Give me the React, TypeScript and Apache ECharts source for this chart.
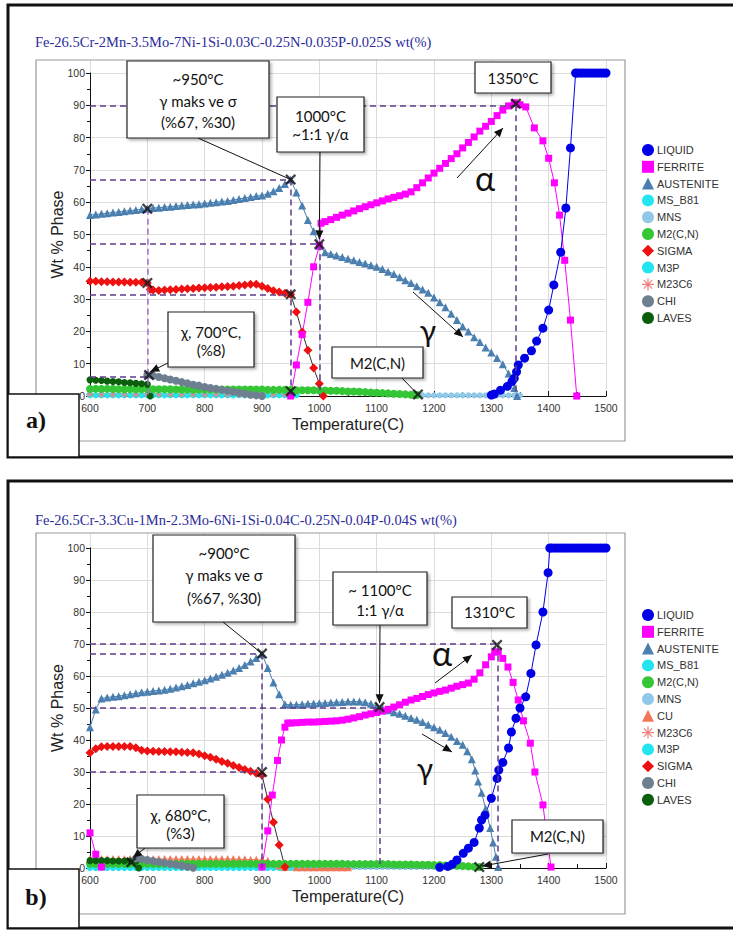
import React, { useEffect, useRef } from "react";
import * as echarts from "echarts";

// uniformly spaced temperature runs: start temperature, step
const run = (start: number, step: number, vals: number[]): any[] =>
  vals.map((v, i) => [start + i * step, v]);

// ---------------- texts ----------------
const TITLE_A = "Fe-26.5Cr-2Mn-3.5Mo-7Ni-1Si-0.03C-0.25N-0.035P-0.025S wt(%)";
const TITLE_B = "Fe-26.5Cr-3.3Cu-1Mn-2.3Mo-6Ni-1Si-0.04C-0.25N-0.04P-0.04S wt(%)";
const X_NAME = "Temperature(C)";
const Y_NAME = "Wt % Phase";
const LEGEND_A = ["LIQUID", "FERRITE", "AUSTENITE", "MS_B81", "MNS", "M2(C,N)", "SIGMA", "M3P", "M23C6", "CHI", "LAVES"];
const LEGEND_B = ["LIQUID", "FERRITE", "AUSTENITE", "MS_B81", "M2(C,N)", "MNS", "CU", "M23C6", "M3P", "SIGMA", "CHI", "LAVES"];

// ---------------- panel a ----------------
const A_AUSTENITE = [
  ...run(600, 10, [56.0, 56.2, 56.4, 56.6, 56.8, 57.0, 57.2, 57.4, 57.6, 57.8, 58.0, 58.2, 58.3, 58.5, 58.6, 58.8, 59.0, 59.1, 59.3, 59.4,
    59.6, 59.8, 60.0, 60.2, 60.4, 60.7, 61.0, 61.3, 61.6, 61.9, 62.1, 62.6, 63.4, 64.4, 65.6, 67.0,
    63.0, 59.0, 54.5, 51.0, 46.5, 44.5, 44.0, 43.5, 43.0, 42.5, 42.0, 41.5, 41.0, 40.5, 40.0, 39.3, 38.5, 37.8, 36.8, 35.8,
    35.0, 34.0, 33.0, 32.0, 30.5, 29.0, 27.5, 25.5, 23.5, 21.5, 20.0, 18.2, 16.7, 15.0, 13.5, 11.8, 9.8, 7.0, 2.5]),
  [1345, 0],
];
const A_FERRITE = [
  [950, 0], [960, 9.6], [970, 19], [980, 29], [990, 40], [1000, 46.5], [1003, 53.5],
  ...run(1010, 10, [54.0, 54.6, 55.3, 56.0, 56.6, 57.3, 58.0, 58.6, 59.2, 59.8, 60.4, 61.0, 61.5, 62.0, 62.5, 63.2, 64.5, 66.0, 67.5, 69.0,
    70.5, 72.0, 73.5, 75.0, 76.8, 78.5, 80.2, 82.0, 83.5, 85.0, 86.8, 88.5, 89.8, 90.8]),
  [1350, 90.2], [1360, 89.5], [1375, 83], [1390, 79], [1400, 73.6], [1410, 66], [1419, 56], [1428, 42], [1438, 23.5], [1449, 0],
];
const A_LIQUID = [
  [1300, 0.3], [1305, 0.6], [1316, 1.8], [1328, 3.0], [1336, 4.5], [1340, 5.5], [1344, 7.5], [1347, 9.6], [1358, 11.7], [1370, 14.0],
  [1379, 17.0], [1390, 21.0], [1400, 26.6], [1409, 34.4], [1421, 44.5], [1430, 58.2], [1438, 76.8], [1447, 100],
  ...run(1450, 5, [100, 100, 100, 100, 100, 100, 100, 100, 100, 100, 100]),
];
const A_SIGMA = [
  ...run(600, 10, [35.5, 35.5, 35.4, 35.4, 35.3, 35.3, 35.3, 35.2, 35.2, 35.2, 35.0]),
  [705, 33.0],
  ...run(710, 10, [32.8, 32.7, 32.8, 32.9, 33.0, 33.1, 33.2, 33.3, 33.4, 33.5, 33.6, 33.7, 33.8, 33.9, 34.0, 34.2, 34.4, 34.6, 34.6, 34.0,
    33.3, 32.6, 32.2, 31.8, 31.4]),
  [960, 26], [970, 19.8], [980, 14.2], [990, 8.7], [1000, 3.8], [1007, 0],
];
const A_CHI = run(700, 10, [6.5, 6.3, 5.9, 5.5, 5.1, 4.7, 4.3, 3.9, 3.5, 3.2, 2.8, 2.5, 2.2, 1.9, 1.6, 1.3, 1.0, 0.7, 0.4, 0.2, 0]);
const A_LAVES = [...run(600, 10, [5.0, 4.9, 4.8, 4.6, 4.5, 4.4, 4.2, 4.1, 3.9, 3.8, 3.6]), [705, 0]];
const A_M2CN = run(600, 10, [2.2, 2.2, 2.2, 2.2, 2.2, 2.1, 2.1, 2.1, 2.1, 2.1, 2.1, 2.1, 2.1, 2.1, 2.1, 2.0, 2.0, 2.0, 2.0, 2.0,
  2.0, 2.0, 2.0, 2.0, 2.0, 2.0, 2.0, 2.0, 2.0, 2.0, 2.0, 1.9, 1.9, 1.9, 1.9, 1.9, 1.8, 1.8, 1.8, 1.8,
  1.7, 1.7, 1.6, 1.6, 1.5, 1.4, 1.4, 1.3, 1.2, 1.1, 1.0, 0.9, 0.8, 0.7, 0.6, 0.5, 0.4, 0.3]);
const A_MSB81 = run(600, 20, [0.4, 0.4, 0.4, 0.4, 0.4, 0.4, 0.4, 0.4, 0.4, 0.4, 0.4, 0.4, 0.4, 0.4, 0.4, 0.4, 0.4, 0.4, 0.4]);
const A_M3P = run(610, 20, [0.2, 0.2, 0.2, 0.2, 0.2, 0.2, 0.2, 0.2, 0.2, 0.2, 0.2, 0.2, 0.2, 0.2, 0.2, 0.2, 0.2, 0.2]);
const A_MNS = run(1180, 10, [0.2, 0.2, 0.2, 0.2, 0.2, 0.2, 0.2, 0.2, 0.2, 0.2, 0.2, 0.2, 0.2, 0.2, 0.2, 0.2, 0.2, 0.2]);
const A_M23C6 = run(600, 20, [0.6, 0.6, 0.6, 0.6, 0.6, 0.6, 0.6, 0.6, 0.6, 0.6, 0.6, 0.6, 0.6, 0.6, 0.6, 0.6, 0.6, 0.6]);
const A_MARKS = [[700, 58], [950, 67], [1000, 47], [700, 35], [950, 31.5], [703, 6.5], [950, 1.5], [1172, 0.5], [1343, 90.5]];
// dashed guide lines: [x1, y1, x2, y2, light?]
const A_GUIDES = [
  [600, 90, 1350, 90, 0], [1343, 90, 1343, 0, 0], [600, 67, 950, 67, 0], [951, 67, 951, 0, 0],
  [600, 47, 1000, 47, 0], [1001, 47, 1001, 0, 0], [700, 58, 700, 0, 1], [600, 31.5, 950, 31.5, 0], [600, 6, 700, 6, 0],
];

// ---------------- panel b ----------------
const B_AUSTENITE = [
  [600, 44], [610, 49.5],
  ...run(620, 10, [53.0, 53.3, 53.5, 53.7, 54.0, 54.3, 54.6, 54.9, 55.1, 55.3, 55.5, 55.7, 56.0, 56.4, 56.8, 57.2, 57.7, 58.2, 58.7,
    59.2, 59.8, 60.4, 61.0, 61.7, 62.5, 63.4, 64.5, 65.6, 66.8]),
  ...run(910, 10, [62.5, 58.0, 54.3, 51.2, 51.0, 51.0, 51.2, 51.3, 51.4, 51.5, 51.6, 51.7, 51.8, 51.9, 52.0, 52.0, 52.0, 51.8, 51.3, 50.6,
    50.0, 49.3, 48.7, 48.2, 47.6, 46.9, 46.3, 45.6, 44.8, 44.0, 43.2, 42.2, 41.0, 39.7]),
  [1250, 38.5], [1258, 36.5], [1266, 34], [1272, 30.5], [1277, 27], [1283, 23.5], [1290, 18.5], [1298, 12.5], [1303, 8], [1308, 3.5], [1312, 0.3],
];
const B_FERRITE = [
  [600, 11], [610, 4.3], [620, 0.3], [700, "-"],
  [900, 0.3], [910, 11.6], [918, 22.8], [927, 33.6], [934, 40], [940, 44], [945, 45.3],
  ...run(950, 10, [45.3, 45.4, 45.5, 45.6, 45.6, 45.7, 45.8, 45.9, 46.0, 46.2, 46.5, 46.9, 47.3, 47.8, 48.2, 48.6, 49.0, 49.6, 50.3, 51.0,
    51.8, 52.5, 53.0, 53.6, 54.2, 54.7, 55.2, 55.6, 56.2, 56.8, 57.3, 57.8, 59.0, 61.0, 63.5, 66.0]),
  [1306, 67.5], [1312, 67.5], [1320, 65.5], [1329, 62.8], [1338, 58], [1347, 52.5], [1356, 46], [1368, 39], [1376, 30], [1390, 19.7], [1404, 0.3],
];
const B_LIQUID = [
  [1210, 0.2], [1224, 0.5], [1232, 1.2], [1240, 2.5], [1251, 4.6], [1260, 6.2], [1270, 8], [1279, 12.5], [1283, 15], [1289, 16.5],
  [1300, 21.8], [1310, 28], [1313, 30.6], [1320, 33], [1330, 37.5], [1335, 42.5], [1343, 46.8], [1350, 50], [1360, 53.5], [1369, 60.8],
  [1378, 69.7], [1390, 80], [1399, 92.3], [1402, 100],
  ...run(1405, 5, [100, 100, 100, 100, 100, 100, 100, 100, 100, 100, 100, 100, 100, 100, 100, 100, 100, 100, 100, 100]),
];
const B_SIGMA = [
  ...run(600, 10, [36.0, 37.3, 37.9, 38.0, 38.0, 38.0, 38.0, 38.0, 37.6, 36.8, 36.6, 36.5, 36.4, 36.4, 36.3, 36.3, 36.2, 36.1, 36.0, 35.6,
    35.1, 34.6, 34.0, 33.3, 32.7, 32.0, 31.4, 30.8, 30.2, 29.6, 29.0]),
  [910, 21.5], [920, 14.3], [930, 7.2], [940, 0.3],
];
const B_CHI = run(680, 10, [3.0, 2.8, 2.5, 2.2, 1.9, 1.6, 1.3, 1.0, 0.7, 0.4, 0.1]);
const B_LAVES = [...run(600, 10, [2.3, 2.3, 2.3, 2.3, 2.2, 2.2, 2.2, 2.2, 2.1]), [685, 0]];
const B_M2CN = run(600, 10, [1.3, 1.3, 1.3, 1.3, 1.3, 1.3, 1.3, 1.3, 1.3, 1.3, 1.3, 1.3, 1.3, 1.3, 1.3, 1.3, 1.3, 1.3, 1.3, 1.3,
  1.3, 1.3, 1.3, 1.3, 1.3, 1.3, 1.3, 1.3, 1.3, 1.3, 1.3, 1.3, 1.3, 1.3, 1.3, 1.3, 1.3, 1.3, 1.3, 1.3,
  1.3, 1.3, 1.3, 1.3, 1.3, 1.2, 1.2, 1.2, 1.2, 1.2, 1.2, 1.2, 1.2, 1.1, 1.1, 1.1, 1.1, 1.0, 1.0, 1.0,
  0.9, 0.9, 0.8, 0.8, 0.7, 0.6, 0.5, 0.4, 0.3]);
const B_CU = [
  ...run(600, 10, [2.8, 2.8, 2.8, 2.8, 2.8, 2.8, 2.8, 2.8, 2.8, 2.8, 2.8, 2.8, 2.8, 2.8, 2.8, 2.8, 2.8, 2.8, 2.8, 2.8,
    2.8, 2.8, 2.8, 2.8, 2.8, 2.8, 2.7, 2.7, 2.6, 2.6, 2.5, 2.3, 1.5, 0.8, 0.3]),
  ...run(960, 10, [0.2, 0.2, 0.2, 0.2, 0.2, 0.2, 0.2, 0.2, 0.2, 0.2]),
];
const B_MSB81 = run(600, 10, [0.2, 0.2, 0.2, 0.2, 0.2, 0.2, 0.2, 0.2, 0.2, 0.2, 0.2, 0.2, 0.2, 0.2, 0.2, 0.2, 0.2, 0.2, 0.2, 0.2,
  0.2, 0.2, 0.2, 0.2, 0.2, 0.2, 0.2, 0.2, 0.2, 0.2, 0.2, 0.2, 0.2, 0.2, 0.2, 0.2, 0.2, 0.2, 0.2, 0.2]);
const B_MNS = run(990, 10, [0.3, 0.3, 0.3, 0.3, 0.3, 0.3, 0.3, 0.3, 0.3, 0.3, 0.3, 0.3, 0.3, 0.3, 0.3, 0.3, 0.3, 0.3, 0.3, 0.3, 0.3, 0.3, 0.3, 0.3, 0.3]);
const B_M3P = run(610, 20, [0.1, 0.1, 0.1, 0.1, 0.1, 0.1, 0.1, 0.1, 0.1]);
const B_M23C6 = run(600, 20, [1.5, 1.5, 1.5, 1.5, 1.5, 1.5, 1.5, 1.5, 1.5, 1.5, 1.5, 1.5, 1.5, 1.5, 1.5, 1.5]);
const B_MARKS = [[900, 67], [900, 30], [1105, 50.3], [1310, 69.7], [672, 1.8], [1279, 0.3]];
const B_GUIDES = [
  [600, 70, 1311, 70, 0], [1311, 69.5, 1311, 0, 0], [600, 67, 900, 67, 0], [900, 67, 900, 0, 0],
  [600, 50, 1105, 50, 0], [1105, 50, 1105, 0, 0], [600, 30, 900, 30, 0],
];

// ---------------- styling ----------------
const SANS = "'Liberation Sans', Arial, Helvetica, sans-serif";
const ANN = "Lato, 'Open Sans', 'DejaVu Sans', sans-serif";
const SERIF = "'Liberation Serif', 'Times New Roman', serif";
const X_SYMBOL = "path://M0,1.5L1.5,0L5,3.5L8.5,0L10,1.5L6.5,5L10,8.5L8.5,10L5,6.5L1.5,10L0,8.5L3.5,5Z";
const STAR = "path://M4.5,0H5.5V10H4.5Z M0,4.5H10V5.5H0Z M1.1,1.8L1.8,1.1L8.9,8.2L8.2,8.9Z M8.2,1.1L8.9,1.8L1.8,8.9L1.1,8.2Z";
const PHASE: Record<string, { color: string; symbol: string; size: number; line?: string }> = {
  LIQUID: { color: "#0000e6", symbol: "circle", size: 9 },
  FERRITE: { color: "#ff00ff", symbol: "rect", size: 7 },
  AUSTENITE: { color: "#4a7fb0", symbol: "triangle", size: 8 },
  MS_B81: { color: "#22e5f0", symbol: "circle", size: 7 },
  MNS: { color: "#8fc8e8", symbol: "circle", size: 6 },
  "M2(C,N)": { color: "#35c635", symbol: "circle", size: 8 },
  SIGMA: { color: "#ee1111", symbol: "diamond", size: 9, line: "#333333" },
  M3P: { color: "#22e5f0", symbol: "circle", size: 6 },
  M23C6: { color: "#f08080", symbol: STAR, size: 8 },
  CHI: { color: "#6e7f90", symbol: "circle", size: 8 },
  LAVES: { color: "#0b5e0b", symbol: "circle", size: 7 },
  CU: { color: "#f07858", symbol: "triangle", size: 8 },
};

const X_LEFT = 90, X_WIDTH = 516;
const GRIDS = [
  { left: X_LEFT, width: X_WIDTH, top: 60, height: 336 },
  { left: X_LEFT, width: X_WIDTH, top: 73, height: 323 },
  { left: X_LEFT, width: X_WIDTH, top: 533, height: 335 },
  { left: X_LEFT, width: X_WIDTH, top: 548, height: 320 },
];

function phaseSeries(name: string, data: any[], axis: number, z = 2) {
  const p = PHASE[name];
  return {
    type: "line", name, data, xAxisIndex: axis, yAxisIndex: axis, symbol: p.symbol, symbolSize: p.size,
    showSymbol: true, itemStyle: { color: p.color }, lineStyle: { color: p.line ?? p.color, width: 1 },
    silent: true, z, connectNulls: false,
  };
}

function markSeries(data: number[][], guides: number[][], axis: number) {
  return {
    type: "scatter", name: "marks" + axis, data, xAxisIndex: axis, yAxisIndex: axis, symbol: X_SYMBOL, symbolSize: 11,
    itemStyle: { color: "#111" }, silent: true, z: 8,
    markLine: {
      silent: true, symbol: ["none", "none"], label: { show: false },
      lineStyle: { type: [6, 4], color: "#5e3c8a", width: 1.5 },
      data: guides.map((g) => [
        { coord: [g[0], g[1]], lineStyle: { type: [6, 4], width: 1.5, color: g[4] ? "#a070d0" : "#5e3c8a" } },
        { coord: [g[2], g[3]] },
      ]),
    },
  };
}

function bgAxes(grid: number, ymax: number) {
  return {
    x: { type: "value", gridIndex: grid, min: 600, max: 1500, interval: 100, axisLine: { show: false }, axisTick: { show: false },
      axisLabel: { show: false }, splitLine: { show: true, lineStyle: { color: "#dcdcdc", width: 1 } } },
    y: { type: "value", gridIndex: grid, min: 0, max: ymax, show: false, splitLine: { show: false } },
  };
}
function mainAxes(grid: number) {
  return {
    x: { type: "value", gridIndex: grid, min: 600, max: 1500, interval: 100, name: X_NAME, nameLocation: "middle", nameGap: 20,
      nameTextStyle: { fontSize: 16, color: "#222", fontFamily: SANS },
      axisLine: { lineStyle: { color: "#111", width: 1 } }, axisTick: { inside: true, length: 5, lineStyle: { color: "#111" } },
      minorTick: { show: true, splitNumber: 2, length: 4, lineStyle: { color: "#111" } },
      axisLabel: { fontSize: 10.5, color: "#333", fontFamily: SANS, margin: 6, formatter: (v: number) => String(v) },
      splitLine: { show: false } },
    y: { type: "value", gridIndex: grid, min: 0, max: 100, interval: 10, name: Y_NAME, nameLocation: "middle", nameGap: 25,
      nameMoveOverlap: false,
      nameTextStyle: { fontSize: 16, color: "#222", fontFamily: SANS },
      axisLine: { show: true, lineStyle: { color: "#111", width: 1 } }, axisTick: { show: true, length: 4, lineStyle: { color: "#111" } },
      minorTick: { show: true, splitNumber: 2, length: 3, lineStyle: { color: "#111" } },
      axisLabel: { fontSize: 10.5, color: "#333", fontFamily: SANS, margin: 5, formatter: (v: number) => String(v) },
      splitLine: { show: true, lineStyle: { color: "#dcdcdc", width: 1 } } },
  };
}

function legend(names: string[], top: number) {
  return {
    orient: "vertical", left: 642, top, itemWidth: 12, itemHeight: 12, itemGap: 4.8, padding: 0,
    textStyle: { fontSize: 11, color: "#333", fontFamily: SANS, padding: [0, 0, 0, -2] }, selectedMode: false,
    data: names.map((n) => ({ name: n, icon: PHASE[n].symbol })),
  };
}

function buildOption() {
  const ba = bgAxes(0, 104.03), ma = mainAxes(1), bb = bgAxes(2, 104.69), mb = mainAxes(3);
  return {
    animation: false,
    backgroundColor: "#ffffff",
    grid: GRIDS,
    xAxis: [ba.x, ma.x, bb.x, mb.x],
    yAxis: [ba.y, ma.y, bb.y, mb.y],
    legend: [legend(LEGEND_A, 144), legend(LEGEND_B, 609)],
    series: [
      phaseSeries("MNS", A_MNS, 1), phaseSeries("MS_B81", A_MSB81, 1), phaseSeries("M3P", A_M3P, 1), phaseSeries("M23C6", A_M23C6, 1),
      phaseSeries("M2(C,N)", A_M2CN, 1), phaseSeries("LAVES", A_LAVES, 1), phaseSeries("CHI", A_CHI, 1), phaseSeries("SIGMA", A_SIGMA, 1),
      phaseSeries("AUSTENITE", A_AUSTENITE, 1), phaseSeries("FERRITE", A_FERRITE, 1), phaseSeries("LIQUID", A_LIQUID, 1),
      markSeries(A_MARKS, A_GUIDES, 1),
      phaseSeries("MNS", B_MNS, 3), phaseSeries("MS_B81", B_MSB81, 3), phaseSeries("M3P", B_M3P, 3), phaseSeries("M23C6", B_M23C6, 3),
      phaseSeries("CU", B_CU, 3), phaseSeries("M2(C,N)", B_M2CN, 3), phaseSeries("LAVES", B_LAVES, 3), phaseSeries("CHI", B_CHI, 3),
      phaseSeries("SIGMA", B_SIGMA, 3), phaseSeries("AUSTENITE", B_AUSTENITE, 3), phaseSeries("FERRITE", B_FERRITE, 3),
      phaseSeries("LIQUID", B_LIQUID, 3),
      markSeries(B_MARKS, B_GUIDES, 3),
    ],
  };
}

// ---------------- annotation helpers (pixel layout) ----------------
const box = (x: number, y: number, w: number, h: number) => ({
  type: "rect", z: 100, shape: { x, y, width: w, height: h },
  style: { fill: "#fff", stroke: "#222", lineWidth: 1.2, shadowBlur: 3, shadowOffsetX: 2, shadowOffsetY: 2, shadowColor: "rgba(0,0,0,0.3)" },
});
const txt = (x: number, y: number, text: string, size = 15, extra: any = {}) => ({
  type: "text", z: 101, x, y,
  style: { text, fontSize: size, fontFamily: ANN, fill: "#111", align: "center", verticalAlign: "middle", ...extra },
});
const seg = (x1: number, y1: number, x2: number, y2: number, w = 1) => ({
  type: "line", z: 99, shape: { x1, y1, x2, y2 }, style: { stroke: "#111", lineWidth: w },
});
const head = (x1: number, y1: number, x2: number, y2: number, size = 9) => {
  const a = Math.atan2(y2 - y1, x2 - x1);
  const w = size * 0.45;
  const bx = x2 - size * Math.cos(a), by = y2 - size * Math.sin(a);
  return {
    type: "polygon", z: 101,
    shape: { points: [[x2, y2], [bx + w * Math.sin(a), by - w * Math.cos(a)], [bx - w * Math.sin(a), by + w * Math.cos(a)]] },
    style: { fill: "#111" },
  };
};
const arrow = (x1: number, y1: number, x2: number, y2: number) => [seg(x1, y1, x2, y2), head(x1, y1, x2, y2)];

function buildGraphics(chart: any) {
  const pa = (x: number, y: number) => chart.convertToPixel({ gridIndex: 1 }, [x, y]) as number[];
  const pb = (x: number, y: number) => chart.convertToPixel({ gridIndex: 3 }, [x, y]) as number[];
  const g: any[] = [];
  // frames
  g.push({ type: "rect", z: 0, shape: { x: 8, y: 5, width: 740, height: 452 }, style: { fill: "none", stroke: "#111", lineWidth: 3 } });
  g.push({ type: "rect", z: 0, shape: { x: 8, y: 481, width: 740, height: 447 }, style: { fill: "none", stroke: "#111", lineWidth: 3 } });
  g.push({ type: "rect", z: 0, shape: { x: 36, y: 60, width: 589, height: 381 }, style: { fill: "none", stroke: "#9a9a9a", lineWidth: 1.2 } });
  g.push({ type: "rect", z: 0, shape: { x: 36, y: 533, width: 589, height: 381 }, style: { fill: "none", stroke: "#9a9a9a", lineWidth: 1.2 } });
  // titles
  g.push({ type: "text", z: 50, x: 35, y: 42, style: { text: TITLE_A, fontSize: 14.5, fontFamily: SERIF, fill: "#2b2b9b", verticalAlign: "middle" } });
  g.push({ type: "text", z: 50, x: 35, y: 520, style: { text: TITLE_B, fontSize: 14.5, fontFamily: SERIF, fill: "#2b2b9b", verticalAlign: "middle" } });

  // ---- panel a annotations
  let p = pa(950, 67); g.push(seg(198, 138, p[0], p[1]));
  p = pa(1000, 48.5); g.push(...arrow(320, 152, p[0], p[1]));
  p = pa(705, 7.5); g.push(...arrow(170, 362, p[0], p[1]));
  p = pa(1170, 0.8); g.push(seg(402, 378, p[0], p[1]));
  g.push(...arrow(457, 178, 503, 128));
  g.push(...arrow(413, 292, 463, 337));
  g.push(box(127, 61, 142, 77), txt(198, 79, "~950°C"), txt(198, 101, "γ maks ve σ"), txt(198, 122, "(%67, %30)"));
  g.push(box(277, 97, 87, 55), txt(320.5, 116, "1000°C"), txt(320.5, 134, "~1:1 γ/α"));
  g.push(box(475, 62, 76, 31), txt(513, 78, "1350°C"));
  g.push(box(168, 312, 86, 55), txt(211, 332, "χ, 700°C,"), txt(211, 350, "(%8)"));
  g.push(box(332, 347, 91, 31), txt(377.5, 363, "M2(C,N)"));
  g.push(txt(485, 177, "α", 34), txt(428, 330, "γ", 30));
  g.push({ type: "rect", z: 100, shape: { x: 8, y: 394, width: 71, height: 63 }, style: { fill: "#fff", stroke: "#111", lineWidth: 1.5 } });
  g.push(txt(36, 420, "a)", 24, { fontFamily: SERIF, fontWeight: "bold" }));

  // ---- panel b annotations
  p = pb(900, 67); g.push(seg(223, 622, p[0], p[1]));
  p = pb(1105, 51.5); g.push(...arrow(380, 625, p[0], p[1]));
  p = pb(675, 3.2); g.push(...arrow(145, 848, p[0], p[1]));
  p = pb(1284, 0.6); g.push(...arrow(548, 854, p[0], p[1]));
  g.push(...arrow(435, 683, 472, 655));
  g.push(...arrow(422, 734, 452, 752));
  g.push(box(153, 535, 142, 87), txt(224, 553, "~900°C"), txt(224, 575, "γ maks ve σ"), txt(224, 598, "(%67, %30)"));
  g.push(box(333, 572, 94, 53), txt(380, 590, "~ 1100°C"), txt(380, 610, "1:1 γ/α"));
  g.push(box(452, 597, 75, 31), txt(489.5, 612, "1310°C"));
  g.push(box(137, 795, 87, 53), txt(180.5, 815, "χ, 680°C,"), txt(180.5, 833, "(%3)"));
  g.push(box(512, 820, 91, 33), txt(557.5, 836, "M2(C,N)"));
  g.push(txt(442, 652, "α", 34), txt(425, 768, "γ", 30));
  g.push({ type: "rect", z: 100, shape: { x: 8, y: 869, width: 71, height: 59 }, style: { fill: "#fff", stroke: "#111", lineWidth: 1.5 } });
  g.push(txt(36, 897, "b)", 24, { fontFamily: SERIF, fontWeight: "bold" }));
  return g;
}

export default function App() {
  const ref = useRef<HTMLDivElement>(null);
  useEffect(() => {
    if (!ref.current) return;
    const chart = echarts.init(ref.current, null, { renderer: "svg", width: 733, height: 931 });
    chart.setOption(buildOption() as any);
    chart.setOption({ graphic: buildGraphics(chart) } as any);
    return () => chart.dispose();
  }, []);
  return <div ref={ref} style={{ position: "absolute", left: 0, top: 0, width: 733, height: 931, background: "#fff" }} />;
}
